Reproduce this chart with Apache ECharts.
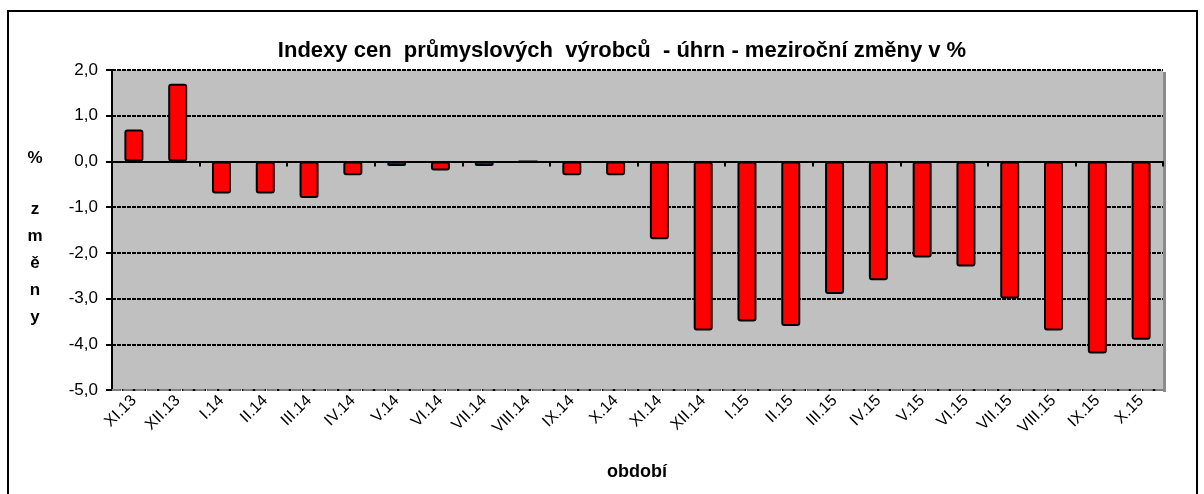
<!DOCTYPE html>
<html>
<head>
<meta charset="utf-8">
<script src="https://cdn.jsdelivr.net/npm/echarts@6/dist/echarts.min.js"></script>
<style>
  html, body { margin: 0; padding: 0; background: #fff; }
  #chart { width: 1204px; height: 494px; }
</style>
</head>
<body>
<div id="chart"></div>
<script>
// období (měsíce) a meziroční změny v %
const months = ['XI.13', 'XII.13', 'I.14', 'II.14', 'III.14', 'IV.14', 'V.14', 'VI.14', 'VII.14', 'VIII.14',
    'IX.14', 'X.14', 'XI.14', 'XII.14', 'I.15', 'II.15', 'III.15', 'IV.15', 'V.15', 'VI.15',
    'VII.15', 'VIII.15', 'IX.15', 'X.15'];
const zmeny = [0.7, 1.7, -0.7, -0.7, -0.8, -0.3, -0.1, -0.2, -0.1, 0.0,
    -0.3, -0.3, -1.7, -3.7, -3.5, -3.6, -2.9, -2.6, -2.1, -2.3,
    -3.0, -3.7, -4.2, -3.9];

const font = 'Arial, "Liberation Sans", sans-serif';
let myChart = echarts.init(document.getElementById('chart'));
myChart.setOption({
    animation: false,
    backgroundColor: '#fff',
    title: {
        text: 'Indexy cen  průmyslových  výrobců  - úhrn - meziroční změny v %',
        left: 617, top: 35, textAlign: 'center',
        textStyle: { fontFamily: font, fontSize: 22, fontWeight: 'bold', color: '#000' }
    },
    grid: { left: 112, right: 41, top: 70, bottom: 104, show: true, backgroundColor: '#c0c0c0', borderWidth: 0 },
    graphic: [
        { type: 'rect', shape: { x: 8, y: 11, width: 1189, height: 500 }, style: { fill: 'none', stroke: '#000', lineWidth: 2 } },
        { type: 'rect', shape: { x: 1163, y: 72, width: 3, height: 320 }, style: { fill: '#8c8c8c' } },
        { type: 'text', x: 35, y: 158, style: { text: '%', font: 'bold 17px ' + font, fill: '#000', align: 'center', verticalAlign: 'middle' } },
        { type: 'text', x: 35, y: 196, style: { text: 'z\nm\ně\nn\ny', font: 'bold 17px ' + font, fill: '#000', lineHeight: 27, align: 'center', verticalAlign: 'top' } },
        { type: 'text', x: 637, y: 472, style: { text: 'období', font: 'bold 18px ' + font, fill: '#000', align: 'center', verticalAlign: 'middle' } }
    ],
    xAxis: [
        {
            type: 'category', data: months, position: 'bottom',
            axisLine: { onZero: false, lineStyle: { color: '#808080', width: 2, type: 'dashed' } },
            axisTick: { show: false },
            axisLabel: { rotate: 45, fontFamily: font, fontSize: 16, color: '#000', margin: 8, interval: 0 }
        },
        {
            type: 'category', data: months, position: 'bottom',
            axisLine: { onZero: true, lineStyle: { color: '#000', width: 2 } },
            axisTick: { show: true, length: 5, lineStyle: { color: '#000', width: 2 } },
            axisLabel: { show: false }
        }
    ],
    yAxis: {
        type: 'value', min: -5, max: 2, interval: 1,
        axisLine: { show: true, lineStyle: { color: '#000', width: 2 } },
        axisTick: { show: true, length: 6, lineStyle: { color: '#000', width: 2 } },
        axisLabel: {
            fontFamily: font, fontSize: 17, color: '#000', margin: 14,
            formatter: v => v.toFixed(1).replace('.', ',')
        },
        splitLine: { show: true, lineStyle: { color: '#000', width: 2, type: [4, 1] } }
    },
    series: [{
        name: 'změny', type: 'bar', xAxisIndex: 0, data: zmeny, barWidth: 19,
        itemStyle: { color: '#ff0000', borderColor: '#000', borderWidth: 2, borderRadius: 2 }
    }]
});
</script>
</body>
</html>
